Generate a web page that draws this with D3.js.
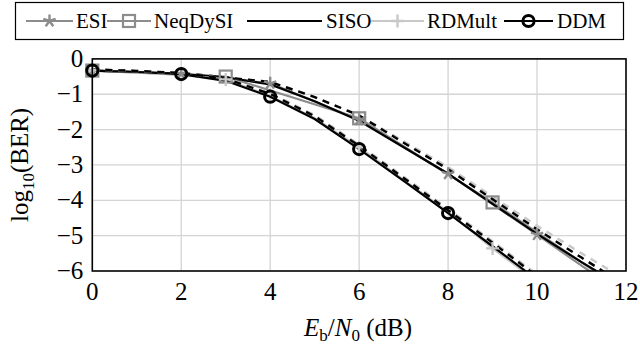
<!DOCTYPE html>
<html>
<head>
<meta charset="utf-8">
<script src="https://cdn.jsdelivr.net/npm/d3@7"></script>
<style>
  body { margin: 0; background: #fff; }
  svg text { font-family: "Liberation Serif", "DejaVu Serif", serif; fill: #000; }
</style>
</head>
<body>
<svg id="chart" width="640" height="346"></svg>
<script>
// ---- data ----
var xTicks = [0, 2, 4, 6, 8, 10, 12];
var yTicks = [0, -1, -2, -3, -4, -5, -6];

var esiX = [0, 2, 4, 6, 8, 10, 11, 12];
var esiY = [-0.33, -0.42, -0.69, -1.72, -3.25, -4.97, -5.85, -6.7];

var neqX = [0, 3, 6, 9, 12];
var neqY = [-0.33, -0.5, -1.68, -4.06, -6.6];

var sisoX = [0, 1, 2, 3, 4, 5, 6, 7, 8, 9, 10, 11, 12];
var sisoY = [-0.33, -0.37, -0.42, -0.52, -0.72, -1.2, -1.75, -2.5, -3.25, -4.1, -4.95, -5.75, -6.5];

var rdmX = [0, 1, 2, 3, 4, 5, 6, 7, 8, 9, 10];
var rdmY = [-0.33, -0.38, -0.45, -0.58, -1.05, -1.68, -2.5, -3.42, -4.33, -5.36, -6.3];
var rdmMarks = [0, 3, 6, 9];

var ddmX = [0, 1, 2, 3, 4, 5, 6, 7, 8, 9, 10];
var ddmY = [-0.33, -0.37, -0.43, -0.62, -1.07, -1.7, -2.55, -3.45, -4.36, -5.3, -6.25];
var ddmMarks = [0, 2, 4, 6, 8];

// unlabelled dashed reference curves
var dashUpX = [0, 2, 4, 5, 6, 7, 8, 9, 10, 11, 12];
var dashUpY = [-0.3, -0.4, -0.65, -1.08, -1.6, -2.37, -3.12, -3.97, -4.82, -5.62, -6.42];
var dashUpGrayY = [-0.3, -0.4, -0.65, -1.08, -1.6, -2.33, -3.06, -3.9, -4.72, -5.5, -6.25];
var dashLoX = [0, 1, 2, 3, 4, 5, 6, 7, 8, 9, 10];
var dashLoY = [-0.3, -0.34, -0.4, -0.56, -0.99, -1.62, -2.46, -3.37, -4.28, -5.2, -6.15];
var dashLoGrayY = [-0.3, -0.34, -0.4, -0.55, -0.97, -1.59, -2.43, -3.33, -4.24, -5.16, -6.1];

var legendNames = ["ESI", "NeqDySI", "SISO", "RDMult", "DDM"];

// ---- layout ----
var plotL = 92.3, plotR = 626, plotT = 58.9, plotB = 271;
var svg = d3.select("#chart");

var x = d3.scaleLinear().domain([0, 12]).range([plotL, plotR]);
var y = d3.scaleLinear().domain([-6, 0]).range([plotB, plotT]);

var grayC = "#8c8c8c", lightC = "#c8c8c8";

// grid
var grid = svg.append("g");
grid.selectAll(".gx").data(xTicks.slice(1, -1)).enter().append("line")
  .attr("x1", d => x(d)).attr("x2", d => x(d))
  .attr("y1", plotT).attr("y2", plotB)
  .attr("stroke", "#d4d4d4").attr("stroke-width", 1.3);
grid.selectAll(".gy").data(yTicks.slice(1, -1)).enter().append("line")
  .attr("y1", d => y(d)).attr("y2", d => y(d))
  .attr("x1", plotL).attr("x2", plotR)
  .attr("stroke", "#d4d4d4").attr("stroke-width", 1.3);

svg.append("clipPath").attr("id", "clip").append("rect")
  .attr("x", plotL).attr("y", plotT).attr("width", plotR - plotL).attr("height", plotB - plotT);

var lineGen = d3.line().x(d => x(d[0])).y(d => y(d[1]));
function pairs(xs, ys) { return xs.map((v, i) => [v, ys[i]]); }

var curves = svg.append("g").attr("clip-path", "url(#clip)");
function drawLine(xs, ys, color, width, dash) {
  curves.append("path").datum(pairs(xs, ys))
    .attr("d", lineGen).attr("fill", "none")
    .attr("stroke", color).attr("stroke-width", width)
    .attr("stroke-dasharray", dash || null);
}

// marker shapes
function starPath(r) {
  var p = "";
  for (var k = 0; k < 5; k++) {
    var a = -Math.PI / 2 + k * 2 * Math.PI / 5;
    p += "M0,0L" + (r * Math.cos(a)).toFixed(2) + "," + (r * Math.sin(a)).toFixed(2);
  }
  return p;
}
function drawMarker(g, type, cx, cy) {
  if (type === "star") {
    g.append("path").attr("d", starPath(6.5)).attr("transform", "translate(" + cx + "," + cy + ")")
      .attr("stroke", grayC).attr("stroke-width", 2.4).attr("fill", "none");
  } else if (type === "square") {
    g.append("rect").attr("x", cx - 6).attr("y", cy - 6).attr("width", 12).attr("height", 12)
      .attr("stroke", grayC).attr("stroke-width", 2.2).attr("fill", "none");
  } else if (type === "plus") {
    g.append("path").attr("d", "M-6.5,0H6.5M0,-6.5V6.5").attr("transform", "translate(" + cx + "," + cy + ")")
      .attr("stroke", lightC).attr("stroke-width", 2.4).attr("fill", "none");
  } else if (type === "circle") {
    g.append("circle").attr("cx", cx).attr("cy", cy).attr("r", 5.6)
      .attr("stroke", "#000").attr("stroke-width", 3).attr("fill", "none");
  }
}
var marks = svg.append("g");
function drawMarks(xs, ys, type, idx) {
  (idx || xs.map((d, i) => i)).forEach(function (i) {
    if (ys[i] >= -6) drawMarker(marks, type, x(xs[i]), y(ys[i]));
  });
}

drawLine(esiX, esiY, grayC, 2.2);
drawLine(neqX, neqY, grayC, 2.2);
drawLine(sisoX, sisoY, "#000", 2.2);
drawLine(rdmX, rdmY, lightC, 2.2);
drawLine(ddmX, ddmY, "#000", 2.2);
drawLine(dashUpX, dashUpGrayY, lightC, 2.4, "7,6");
drawLine(dashUpX, dashUpY, "#000", 2.4, "7,6");
drawLine(dashLoX, dashLoGrayY, lightC, 2.4, "7,6");
drawLine(dashLoX, dashLoY, "#000", 2.4, "7,6");

drawMarks(esiX, esiY, "star", [0, 1, 2, 3, 4, 5]);
drawMarks(neqX, neqY, "square");
drawMarks(rdmX, rdmY, "plus", rdmMarks);
drawMarks(ddmX, ddmY, "circle", ddmMarks);

// frame
svg.append("rect").attr("x", plotL).attr("y", plotT)
  .attr("width", plotR - plotL).attr("height", plotB - plotT)
  .attr("fill", "none").attr("stroke", "#000").attr("stroke-width", 1.6);

// axes labels
var tickSize = 25;
svg.append("g").selectAll("text").data(xTicks).enter().append("text")
  .attr("x", d => x(d)).attr("y", plotB + 29)
  .attr("text-anchor", "middle").attr("font-size", tickSize)
  .text(d => d3.format("d")(d));
svg.append("g").selectAll("text").data(yTicks).enter().append("text")
  .attr("x", plotL - 9).attr("y", d => y(d) + 8)
  .attr("text-anchor", "end").attr("font-size", tickSize)
  .text(d => d === 0 ? "0" : "\u2212" + Math.abs(d));

var xl = svg.append("text").attr("x", 358).attr("y", 336)
  .attr("text-anchor", "middle").attr("font-size", 25);
xl.append("tspan").attr("font-style", "italic").text("E");
xl.append("tspan").attr("font-size", 17).attr("dy", 5).text("b");
xl.append("tspan").attr("dy", -5).text("/");
xl.append("tspan").attr("font-style", "italic").text("N");
xl.append("tspan").attr("font-size", 17).attr("dy", 5).text("0");
xl.append("tspan").attr("dy", -5).text(" (dB)");

var yl = svg.append("text").attr("transform", "translate(28," + ((plotT + plotB) / 2) + ") rotate(-90)")
  .attr("text-anchor", "middle").attr("font-size", 25);
yl.append("tspan").text("log");
yl.append("tspan").attr("font-size", 17).attr("dy", 6).text("10");
yl.append("tspan").attr("dy", -6).text("(BER)");

// legend
var leg = svg.append("g");
leg.append("rect").attr("x", 15.5).attr("y", 2.5).attr("width", 608).attr("height", 37)
  .attr("fill", "#fff").attr("stroke", "#000").attr("stroke-width", 1.2);
var legLine = [[26, 73], [107, 151], [247, 322], [371, 424], [504, 553]];
var legText = [76, 154, 326, 427, 557];
var legColor = [grayC, grayC, "#000", lightC, "#000"];
var legMark = ["star", "square", null, "plus", "circle"];
legendNames.forEach(function (name, i) {
  var ly = 21;
  leg.append("line").attr("x1", legLine[i][0]).attr("x2", legLine[i][1])
    .attr("y1", ly).attr("y2", ly).attr("stroke", legColor[i]).attr("stroke-width", 2.2);
  if (legMark[i]) drawMarker(leg, legMark[i], (legLine[i][0] + legLine[i][1]) / 2, ly);
  leg.append("text").attr("x", legText[i]).attr("y", 28).attr("font-size", 21).text(name);
});
</script>
</body>
</html>
